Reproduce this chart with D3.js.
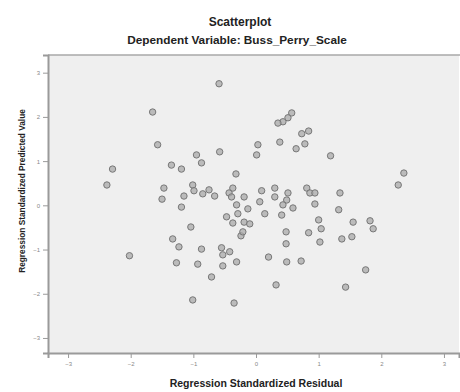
<!DOCTYPE html>
<html>
<head>
<meta charset="utf-8">
<script src="https://cdnjs.cloudflare.com/ajax/libs/d3/7.8.5/d3.min.js"></script>
<style>
  body { margin: 0; background: #fff; }
  text { font-family: "Liberation Sans", Arial, sans-serif; }
</style>
</head>
<body>
<div id="graph"></div>
<script>
// residuals (x) and predicted values (y)
const residuals = [
  -2.29, -2.38, -2.02, -1.65, -1.57, -1.35, -1.19, -0.95, -0.87, -0.58,
  -0.59, -0.32, -1.47, -1.50, -1.01, -0.99, -1.15, -1.19, -0.85, -0.75,
  -0.66, -0.43, -0.39, -0.37, -0.19, -0.31, -0.13, 0.09, 0.06, 0.14,
  -0.29, -0.47, -0.37, -0.19, -0.10, -1.04, -1.33, -1.23, -0.87, -0.55,
  -0.42, -0.24, -0.21, -0.53, -1.27, -0.93, -0.53, -0.31, 0.20, -0.71,
  -1.01, -0.35, 0.03, 0.01, 0.57, 0.51, 0.43, 0.35, 0.84, 0.73,
  0.38, 0.78, 0.64, 1.19, 2.36, 2.27, 0.30, 0.30, 0.51, 0.49,
  0.43, 0.59, 0.81, 0.86, 0.94, 0.94, 1.34, 1.32, 0.41, 1.00,
  1.04, 0.84, 1.02, 0.48, 0.48, 1.55, 1.82, 1.87, 1.37, 1.53,
  0.49, 0.72, 1.75, 1.43, 0.32
];
const predicted = [
  0.82, 0.46, -1.14, 2.11, 1.37, 0.91, 0.82, 1.14, 0.96, 1.21,
  2.75, 0.71, 0.39, 0.14, 0.46, 0.33, 0.21, -0.04, 0.26, 0.35,
  0.21, 0.28, 0.19, 0.39, 0.19, 0.01, -0.08, 0.33, 0.08, -0.19,
  -0.19, -0.26, -0.40, -0.38, -0.42, -0.49, -0.76, -0.94, -0.99, -0.96,
  -1.05, -0.69, -0.60, -1.12, -1.30, -1.33, -1.37, -1.28, -1.17, -1.62,
  -2.14, -2.21, 1.37, 1.14, 2.09, 1.98, 1.89, 1.86, 1.68, 1.62,
  1.43, 1.39, 1.28, 1.12, 0.73, 0.46, 0.39, 0.19, 0.28, 0.12,
  0.01, -0.06, 0.39, 0.28, 0.28, 0.03, 0.28, -0.10, -0.22, -0.33,
  -0.53, -0.62, -0.83, -0.60, -0.87, -0.38, -0.35, -0.53, -0.76, -0.71,
  -1.28, -1.26, -1.46, -1.85, -1.80
];
const xTicks = [-3, -2, -1, 0, 1, 2, 3];
const yTicks = [-3, -2, -1, 0, 1, 2, 3];

const title = 'Scatterplot';
const subtitle = 'Dependent Variable: Buss_Perry_Scale';
const xLabel = 'Regression Standardized Residual';
const yLabel = 'Regression Standardized Predicted Value';

const width = 460, height = 392;
const margin = { top: 55, right: 1, bottom: 39, left: 48 };

const svg = d3.select('#graph')
  .append('svg')
  .attr('width', width)
  .attr('height', height);

const x = d3.scaleLinear()
  .domain([-3.32, 3.24])
  .range([margin.left, width - margin.right]);

const y = d3.scaleLinear()
  .domain([-3.34, 3.40])
  .range([height - margin.bottom, margin.top]);

// plot background
svg.append('rect')
  .attr('x', margin.left)
  .attr('y', margin.top)
  .attr('width', width - margin.right - margin.left)
  .attr('height', height - margin.bottom - margin.top)
  .style('fill', '#efefef');

// top frame line
svg.append('line')
  .attr('x1', margin.left).attr('x2', width)
  .attr('y1', margin.top).attr('y2', margin.top)
  .style('stroke', '#a8a8a8')
  .style('stroke-width', 1.5);

/** axes */
const xAxis = svg.append('g')
  .attr('transform', `translate(0, ${height - margin.bottom})`)
  .call(d3.axisBottom(x).tickValues(xTicks).tickSize(5).tickPadding(4)
    .tickFormat(d3.format('d')));

const yAxis = svg.append('g')
  .attr('transform', `translate(${margin.left}, 0)`)
  .call(d3.axisLeft(y).tickValues(yTicks).tickSize(5).tickPadding(3)
    .tickFormat(d3.format('d')));

[xAxis, yAxis].forEach(g => {
  g.select('.domain').style('stroke', '#9a9a9a').style('stroke-width', 2);
  g.selectAll('.tick line').style('stroke', '#9a9a9a');
  g.selectAll('.tick text')
    .style('font-size', '6px')
    .style('fill', '#888')
    .style('font-family', '"Liberation Sans", Arial, sans-serif');
});

/** points */
svg.selectAll('circle.pt')
  .data(d3.range(residuals.length))
  .join('circle')
  .attr('class', 'pt')
  .attr('cx', i => x(residuals[i]))
  .attr('cy', i => y(predicted[i]))
  .attr('r', 3.2)
  .style('fill', '#a9a9a9')
  .style('fill-opacity', 0.75)
  .style('stroke', '#777')
  .style('stroke-width', 1);

// titles
svg.append('text')
  .attr('x', 240)
  .attr('y', 26)
  .attr('text-anchor', 'middle')
  .style('font-size', '12px')
  .style('font-weight', 'bold')
  .style('fill', '#222')
  .text(title);

svg.append('text')
  .attr('x', 237)
  .attr('y', 44)
  .attr('text-anchor', 'middle')
  .style('font-size', '11.8px')
  .style('font-weight', 'bold')
  .style('fill', '#222')
  .text(subtitle);

svg.append('text')
  .attr('x', 256)
  .attr('y', 387)
  .attr('text-anchor', 'middle')
  .style('font-size', '10.5px')
  .style('font-weight', 'bold')
  .style('fill', '#222')
  .text(xLabel);

svg.append('text')
  .attr('transform', 'translate(25, 191) rotate(-90)')
  .attr('text-anchor', 'middle')
  .style('font-size', '8.3px')
  .style('font-weight', 'bold')
  .style('fill', '#222')
  .text(yLabel);
</script>
</body>
</html>
